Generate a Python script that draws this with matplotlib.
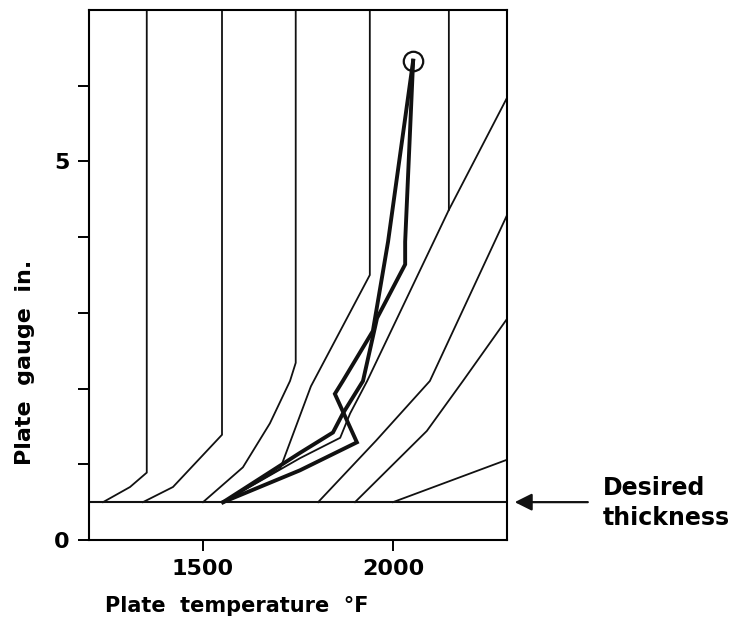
import matplotlib.pyplot as plt

# family of thin curves (plate temperature vs plate gauge)
c1_x = [1237, 1308, 1352, 1352]
c1_y = [0.5, 0.70, 0.89, 7.0]
c2_x = [1342, 1421, 1550, 1550]
c2_y = [0.5, 0.70, 1.39, 7.0]
c3_x = [1500, 1605, 1676, 1729, 1744, 1744]
c3_y = [0.5, 0.96, 1.54, 2.10, 2.34, 7.0]
c4_x = [1553, 1703, 1784, 1939, 1939]
c4_y = [0.5, 0.94, 2.03, 3.50, 7.0]
c5_x = [1553, 1755, 1861, 1887, 1932, 2011, 2147, 2147]
c5_y = [0.5, 1.08, 1.35, 1.67, 2.10, 2.93, 4.36, 7.0]
c6_x = [2147, 2300]
c6_y = [4.36, 5.84]
c7_x = [1803, 1955, 2097, 2300]
c7_y = [0.5, 1.31, 2.10, 4.29]
c8_x = [1900, 2089, 2184, 2300]
c8_y = [0.5, 1.44, 2.10, 2.92]
c9_x = [2000, 2300]
c9_y = [0.5, 1.06]

# two heavy (actual) paths ending at the circled point
ha_x = [1553, 1755, 1842, 1868, 1921, 1958, 2032, 2032, 2053]
ha_y = [0.5, 1.15, 1.42, 1.67, 2.10, 2.93, 3.64, 3.94, 6.33]
hb_x = [1553, 1755, 1905, 1847, 1868, 1947, 1987, 2053]
hb_y = [0.5, 0.92, 1.29, 1.93, 2.10, 2.76, 3.94, 6.33]
end_pt = (2053, 6.33)

desired = 0.5

fig = plt.figure(figsize=(7.42, 6.24), dpi=100)
ax = fig.add_axes([89/742, 1 - 540/624, (507 - 89)/742, (540 - 10)/624])

thin = [(c1_x, c1_y), (c2_x, c2_y), (c3_x, c3_y), (c4_x, c4_y), (c5_x, c5_y),
        (c6_x, c6_y), (c7_x, c7_y), (c8_x, c8_y), (c9_x, c9_y)]
for xs, ys in thin:
    ax.plot(xs, ys, color='#111111', lw=1.3, solid_joinstyle='miter')

ax.plot(ha_x, ha_y, color='#111111', lw=2.8, solid_joinstyle='miter')
ax.plot(hb_x, hb_y, color='#111111', lw=2.8, solid_joinstyle='miter')
ax.plot([end_pt[0]], [end_pt[1]], 'o', ms=14, mfc='none', mec='#111111', mew=1.6)

ax.axhline(desired, color='#111111', lw=1.5)

ax.set_xlim(1200, 2300)
ax.set_ylim(0, 7)
ax.set_xticks([1500, 2000])
ax.set_yticks([0, 1, 2, 3, 4, 5, 6])
ax.set_yticklabels(['0', '', '', '', '', '5', ''])
ax.tick_params(direction='out', length=8, width=1.4, labelsize=16, pad=6)
for lab in ax.get_xticklabels() + ax.get_yticklabels():
    lab.set_fontweight('bold')
for s in ax.spines.values():
    s.set_linewidth(1.5)

ax.annotate('', xy=(2313, desired), xytext=(2520, desired), annotation_clip=False,
            arrowprops=dict(arrowstyle='-|>', mutation_scale=26, lw=1.6, color='#111111'))
fig.text(603/742, 1 - 488/624, 'Desired', fontsize=17, fontweight='bold', ha='left', va='center')
fig.text(603/742, 1 - 518/624, 'thickness', fontsize=17, fontweight='bold', ha='left', va='center')

fig.text(237/742, 1 - 606/624, 'Plate  temperature  °F', fontsize=15, fontweight='bold',
         ha='center', va='center')
fig.text(25/742, 1 - 362/624, 'Plate  gauge  in.', fontsize=16, fontweight='bold',
         ha='center', va='center', rotation=90)

fig.savefig('out.png', dpi=100)
